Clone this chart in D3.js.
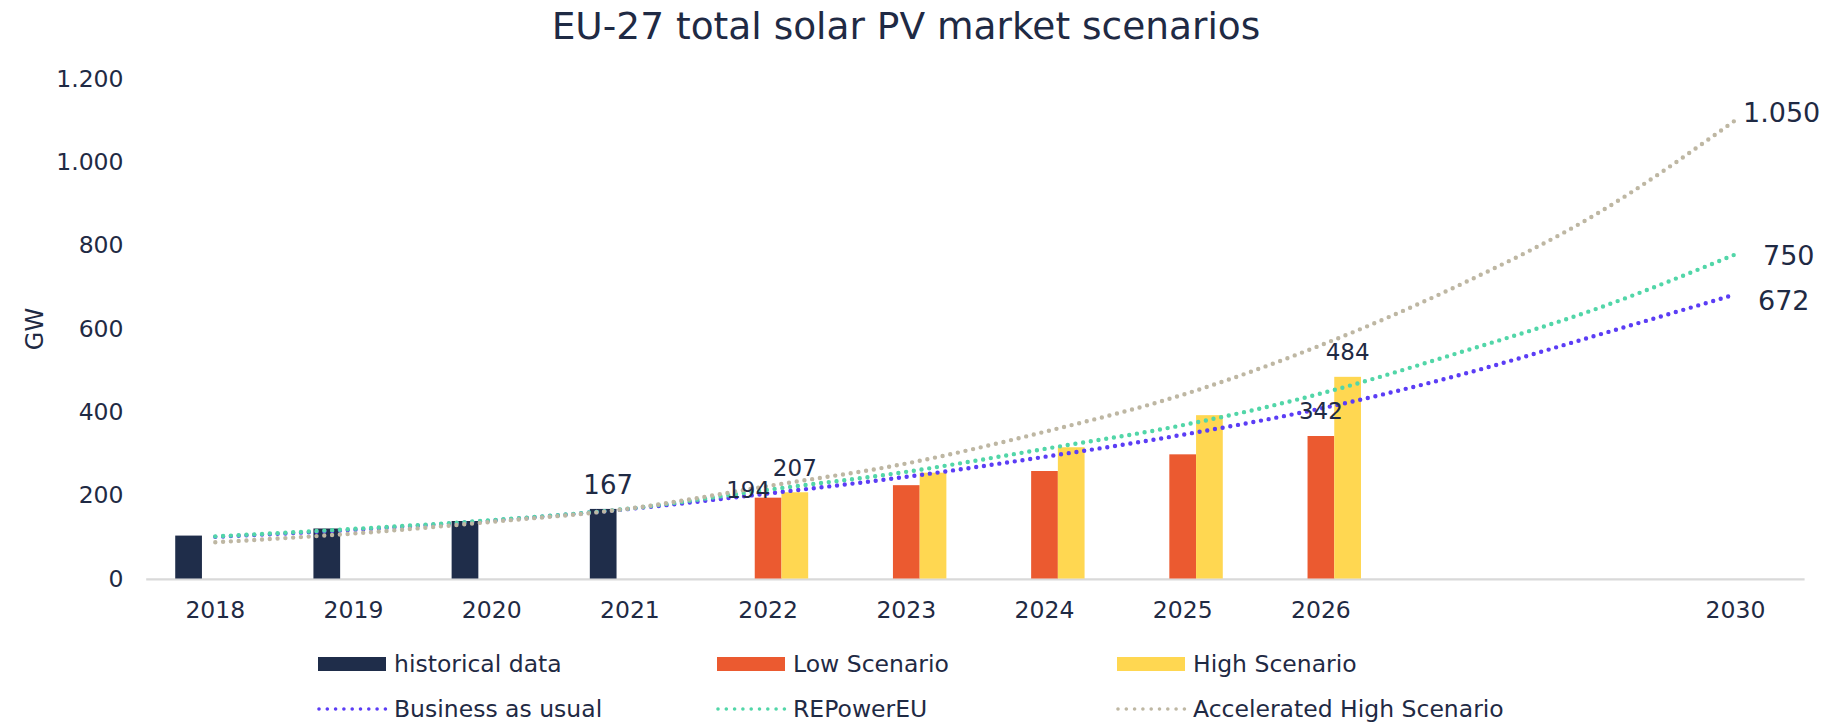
<!DOCTYPE html>
<html>
<head>
<meta charset="utf-8">
<script src="https://cdn.jsdelivr.net/npm/d3@7"></script>
<style>
  html, body { margin: 0; padding: 0; background: #ffffff; }
  svg { display: block; font-family: "DejaVu Sans", Verdana, sans-serif; }
</style>
</head>
<body>
<svg id="chart" width="1836" height="722"></svg>
<script>
// ---------------- DATA ----------------
const categories = ["2018","2019","2020","2021","2022","2023","2024","2025","2026","","","2030"];
const tickLabels = ["2018","2019","2020","2021","2022","2023","2024","2025","2026","","","2030"];
const yTicks = [0, 200, 400, 600, 800, 1000, 1200];

// bar series (GW), null = no bar
const historical = [103, 120, 138, 167, null, null, null, null, null, null, null, null];
const lowScenario = [null, null, null, null, 194, 224, 258, 298, 342, null, null, null];
const highScenario = [null, null, null, null, 207, 254, 315, 392, 484, null, null, null];

// dotted scenario curves (GW), read at each category position
const businessAsUsual = [100, 117, 139, 167, 204, 244, 292, 345, 408, 488, 584, 682];
const repowerEU       = [101, 119, 140, 168, 213, 256, 311, 368, 444, 542, 648, 778];
const accelerated     = [ 87, 108, 136, 168, 222, 276, 352, 441, 560, 704, 876, 1100];

// 2030 end-point labels
const endLabelValues = [672, 750, 1050];

// which bars carry a value label: [series, category index]
const barLabelPoints = [["historical", 3], ["low", 4], ["high", 4], ["low", 8], ["high", 8]];

const barSeriesNames = ["historical data", "Low Scenario", "High Scenario"];
const lineSeriesNames = ["Business as usual", "REPowerEU", "Accelerated High Scenario"];

// ---------------- STYLE ----------------
const textColor = "#1F2A44";
const barColors = { historical: "#1F2D4A", low: "#EB5A30", high: "#FFD751" };
const lineColors = ["#5B3DF5", "#52D6A8", "#BEB7A3"];

// ---------------- CHART ----------------
const svg = d3.select("#chart");
const fmt = d3.formatLocale({ decimal: ",", thousands: ".", grouping: [3], currency: ["", ""] }).format(",d");

const x0 = d3.scaleBand()
  .domain(d3.range(categories.length))
  .range([146.2, 1804.6])
  .paddingInner(0.42)
  .paddingOuter(0.21);

const barKeys = ["historical", "low", "high"];
const x1 = d3.scaleBand().domain(barKeys).range([0, x0.bandwidth()]);

const y = d3.scaleLinear().domain([0, 1200]).range([578.5, 78.5]);

const cx = i => x0(i) + x0.bandwidth() / 2;

// title
svg.append("text")
  .attr("x", 906).attr("y", 38.5)
  .attr("text-anchor", "middle")
  .attr("font-size", 37.5)
  .attr("fill", textColor)
  .text("EU-27 total solar PV market scenarios");

// y axis title
svg.append("text")
  .attr("transform", "translate(42.5,329) rotate(-90)")
  .attr("text-anchor", "middle")
  .attr("font-size", 24)
  .attr("fill", textColor)
  .text("GW");

// y axis
const yAxis = svg.append("g")
  .attr("transform", "translate(123.5,0)")
  .call(d3.axisLeft(y).tickValues(yTicks).tickSize(0).tickPadding(0).tickFormat(fmt));
yAxis.select(".domain").remove();
yAxis.selectAll("text")
  .attr("font-size", 23.5)
  .attr("font-family", "DejaVu Sans, Verdana, sans-serif")
  .attr("fill", textColor);

// baseline
svg.append("line")
  .attr("x1", x0.range()[0]).attr("x2", x0.range()[1])
  .attr("y1", y(0) + 0.8).attr("y2", y(0) + 0.8)
  .attr("stroke", "#D9D9D9").attr("stroke-width", 2.2);

// x axis
const xAxis = svg.append("g")
  .attr("transform", `translate(0,${y(0)})`)
  .call(d3.axisBottom(x0).tickSize(0).tickFormat(i => tickLabels[i]));
xAxis.select(".domain").remove();
xAxis.selectAll("text")
  .attr("y", 31.5).attr("dy", "0.36em")
  .attr("font-size", 23.5)
  .attr("font-family", "DejaVu Sans, Verdana, sans-serif")
  .attr("fill", textColor);

// bars
const barData = { historical: historical, low: lowScenario, high: highScenario };
barKeys.forEach(k => {
  svg.append("g").selectAll("rect")
    .data(barData[k].map((v, i) => ({ i, v })).filter(d => d.v != null))
    .join("rect")
    .attr("x", d => x0(d.i) + x1(k))
    .attr("width", x1.bandwidth())
    .attr("y", d => y(d.v))
    .attr("height", d => y(0) - y(d.v))
    .attr("fill", barColors[k]);
});

// scenario lines
const lineData = [businessAsUsual, repowerEU, accelerated];
const lineGen = d3.line().x((d, i) => cx(i)).y(d => y(d)).curve(d3.curveMonotoneX);
lineData.forEach((arr, s) => {
  svg.append("path")
    .attr("d", lineGen(arr))
    .attr("fill", "none")
    .attr("stroke", lineColors[s])
    .attr("stroke-width", 4.4)
    .attr("stroke-linecap", "round")
    .attr("stroke-dasharray", "0 7.8");
});

// bar value labels (layout offsets: dx, dy from bar top, font size)
const barLabelLayout = [[5, -15, 26], [-20, 0, 23], [0, -16, 23], [0, -17, 23], [0, -17, 23]];
barLabelPoints.forEach(([k, i], n) => {
  const v = barData[k][i];
  const [dx, dy, fs] = barLabelLayout[n];
  svg.append("text")
    .attr("x", x0(i) + x1(k) + x1.bandwidth() / 2 + dx)
    .attr("y", y(v) + dy)
    .attr("text-anchor", "middle")
    .attr("font-size", fs)
    .attr("fill", textColor)
    .text(fmt(v));
});

// 2030 end labels (layout: left x offset from point, baseline offset from line end)
const endLabelLayout = [[22.5, 15.7], [27.5, 10.7], [7.5, 1.5]];
const last = categories.length - 1;
endLabelValues.forEach((v, s) => {
  const [dx, dy] = endLabelLayout[s];
  svg.append("text")
    .attr("x", cx(last) + dx)
    .attr("y", y(lineData[s][last]) + dy)
    .attr("font-size", 27)
    .attr("fill", textColor)
    .text(fmt(v));
});

// legend
const legendCols = [318, 717, 1117];
const legendRows = [664, 709];
barSeriesNames.forEach((name, c) => {
  const g = svg.append("g");
  g.append("rect")
    .attr("x", legendCols[c]).attr("y", legendRows[0] - 7)
    .attr("width", 68).attr("height", 14)
    .attr("fill", barColors[barKeys[c]]);
  g.append("text")
    .attr("x", legendCols[c] + 76).attr("y", legendRows[0] + 8.3)
    .attr("font-size", 23.5)
    .attr("fill", textColor)
    .text(name);
});
lineSeriesNames.forEach((name, c) => {
  const g = svg.append("g");
  g.append("line")
    .attr("x1", legendCols[c] + 1).attr("x2", legendCols[c] + 68)
    .attr("y1", legendRows[1]).attr("y2", legendRows[1])
    .attr("stroke", lineColors[c])
    .attr("stroke-width", 3.6)
    .attr("stroke-linecap", "round")
    .attr("stroke-dasharray", "0 8.3");
  g.append("text")
    .attr("x", legendCols[c] + 76).attr("y", legendRows[1] + 7.5)
    .attr("font-size", 23.5)
    .attr("fill", textColor)
    .text(name);
});
</script>
</body>
</html>
